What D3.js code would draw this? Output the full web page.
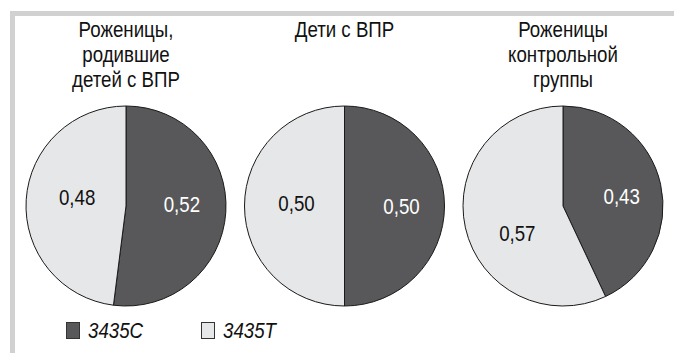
<!DOCTYPE html>
<html>
<head>
<meta charset="utf-8">
<script src="https://cdn.jsdelivr.net/npm/d3@7"></script>
<style>
  html, body { margin: 0; padding: 0; background: #fff; }
  svg { display: block; }
  text { font-family: "Liberation Sans", Arial, sans-serif; }
</style>
</head>
<body>
<svg id="chart" width="674" height="353"></svg>
<script>
// Allele frequencies for the 3435 polymorphism in three groups
const groups = [
  ["Роженицы,", "родившие", "детей с ВПР"],
  ["Дети с ВПР"],
  ["Роженицы", "контрольной", "группы"]
];
const alleles = ["3435C", "3435T"];
const freqC = [0.52, 0.50, 0.43];
const freqT = [0.48, 0.50, 0.57];

const W = 674, H = 353;
const colors = { "3435C": "#58585a", "3435T": "#e6e7e8" };
const textColors = { "3435C": "#ffffff", "3435T": "#111111" };
const narrow = 0.85;   // condensed look: horizontal squeeze of the sans face
const fs = 22;

// hand-tuned nudges of the value labels off the slice centroids
const labelNudge = [
  [[1, -5], [6, -5]],
  [[2, 0], [7, -3]],
  [[5, 2], [8, 15]]
];

const svg = d3.select("#chart");

// light grey frame along the top and left edges
svg.append("rect").attr("x", 10).attr("y", 11).attr("width", W - 10).attr("height", 5).attr("fill", "#d1d1d1");
svg.append("rect").attr("x", 10).attr("y", 11).attr("width", 5).attr("height", H - 11).attr("fill", "#d1d1d1");

const r = 100;
const cx = d3.scalePoint().domain(d3.range(groups.length)).range([126, 563]);
const cy = 206;

const pie = d3.pie().sort(null).value(d => d.value);
const arc = d3.arc().innerRadius(0).outerRadius(r);
const labelArc = d3.arc().innerRadius(r * 0.55).outerRadius(r * 0.55);
const fmt = v => d3.format(".2f")(v).replace(".", ",");

groups.forEach((title, i) => {
  const g = svg.append("g").attr("transform", `translate(${cx(i)},${cy})`);
  const data = [
    { key: alleles[0], value: freqC[i] },
    { key: alleles[1], value: freqT[i] }
  ];
  const arcs = pie(data);
  g.selectAll("path").data(arcs).join("path")
    .attr("d", arc)
    .attr("fill", d => colors[d.data.key])
    .attr("stroke", "#1a1a1a")
    .attr("stroke-width", 1);
  g.selectAll("text.val").data(arcs).join("text")
    .attr("class", "val")
    .attr("transform", (d, k) => {
      const [x, y] = labelArc.centroid(d);
      const [nx, ny] = labelNudge[i][k];
      return `translate(${x + nx},${y + ny}) scale(${narrow},1)`;
    })
    .attr("text-anchor", "middle")
    .attr("dy", "0.36em")
    .attr("font-size", fs)
    .attr("fill", d => textColors[d.data.key])
    .text(d => fmt(d.data.value));

  title.forEach((line, j) => {
    svg.append("text")
      .attr("transform", `translate(${cx(i)},${37 + j * 25}) scale(${narrow},1)`)
      .attr("text-anchor", "middle")
      .attr("font-size", fs)
      .attr("fill", "#111")
      .text(line);
  });
});

// legend
const leg = svg.append("g").attr("transform", "translate(66,322)");
const legX = d3.scalePoint().domain(alleles).range([0, 135]);
alleles.forEach(a => {
  const li = leg.append("g").attr("transform", `translate(${legX(a)},0)`);
  li.append("rect").attr("x", 0.5).attr("y", 0.5).attr("width", 13).attr("height", 16)
    .attr("fill", colors[a]).attr("stroke", "#333").attr("stroke-width", 1);
  li.append("text").attr("transform", `translate(22,16) scale(${narrow},1)`)
    .attr("font-size", fs).attr("font-style", "italic").attr("fill", "#111")
    .text(a);
});
</script>
</body>
</html>
